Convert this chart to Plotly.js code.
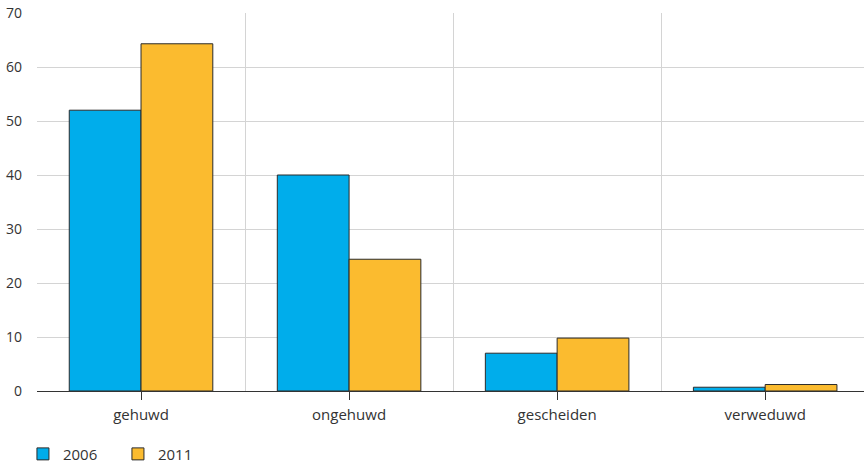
<!DOCTYPE html>
<html><head><meta charset="utf-8">
<script src="https://cdn.plot.ly/plotly-3.0.1.min.js"></script>
<style>html,body{margin:0;padding:0;background:#fff}</style>
</head><body><div id="chart" style="width:864px;height:464px"></div>
<script>
const categories = ["gehuwd", "ongehuwd", "gescheiden", "verweduwd"];
const values2006 = [52.0, 40.0, 7.0, 0.7];
const values2011 = [64.3, 24.4, 9.8, 1.2];
const seriesNames = ["2006", "2011"];
const yTicks = [0, 10, 20, 30, 40, 50, 60, 70];
const centerTicks = [0, 1, 2, 3];

const fontFam = "Open Sans, Lato, sans-serif";
const traces = [
  {type: "bar", name: seriesNames[0], x: categories, y: values2006,
   marker: {color: "#00adeb", line: {color: "#2b2b2b", width: 1}}},
  {type: "bar", name: seriesNames[1], x: categories, y: values2011,
   marker: {color: "#fbbb2f", line: {color: "#2b2b2b", width: 1}}},
  {type: "scatter", mode: "markers", x: [], y: [], xaxis: "x2", yaxis: "y",
   showlegend: false, hoverinfo: "skip"}
];
const layout = {
  width: 864, height: 464,
  margin: {l: 37, r: 0, t: 13, b: 73, autoexpand: false},
  paper_bgcolor: "#fff", plot_bgcolor: "#fff",
  font: {family: fontFam, size: 15, color: "#333"},
  barmode: "group", bargap: 0.31, bargroupgap: 0,
  xaxis: {type: "category", range: [-0.5, 3.475], tickson: "boundaries",
    showgrid: true, gridcolor: "#d4d4d4", gridwidth: 1, ticks: "",
    showline: true, linecolor: "#333", linewidth: 1, ticklabelstandoff: 10,
    tickfont: {size: 15, color: "#333"}, fixedrange: true, zeroline: false},
  xaxis2: {type: "linear", overlaying: "x", anchor: "y", side: "bottom", range: [-0.5, 3.475],
    tickvals: centerTicks, ticks: "outside", ticklen: 8, tickcolor: "#333",
    showticklabels: false, showgrid: false, zeroline: false, showline: false},
  yaxis: {range: [0, 70], tickvals: yTicks, showgrid: true, gridcolor: "#d4d4d4",
    zeroline: false, ticks: "", ticklabelstandoff: 14,
    tickfont: {size: 14, color: "#333"}, showline: false},
  legend: {orientation: "h", x: -0.017, xanchor: "left", y: -0.167, yanchor: "middle",
    entrywidth: 50, entrywidthmode: "pixels", font: {size: 15, color: "#333"},
    bgcolor: "rgba(0,0,0,0)"},
  showlegend: true
};
Plotly.newPlot("chart", traces, layout, {displayModeBar: false, staticPlot: true});
</script></body></html>
